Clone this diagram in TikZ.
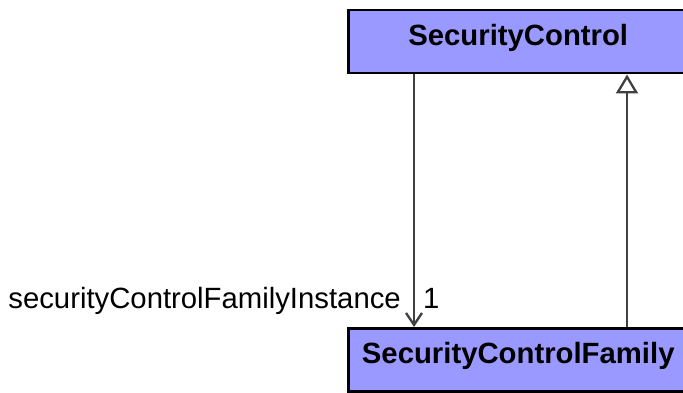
\documentclass[tikz,border=0pt]{standalone}
\usepackage{fontspec}
\setmainfont{Liberation Sans}
\usetikzlibrary{arrows.meta,positioning,calc}
\definecolor{clsfill}{RGB}{153,153,255}
\definecolor{lnk}{RGB}{64,64,64}
\tikzset{
  cls/.style ={rectangle,draw=black,line width=2.5pt,fill=clsfill,minimum width=340pt,
               minimum height=63pt,inner sep=0pt,text height=21pt,text depth=13pt,
               font=\fontsize{29.3}{32}\selectfont\bfseries},
  assoc/.style={lnk,line width=2.3pt,-{Straight Barb[length=12pt,width=16pt,line width=2.3pt]}},
  inher/.style={lnk,line width=2.3pt,-{Triangle[open,length=19pt,width=22pt,line width=2.3pt,fill=white]}},
  role/.style ={inner sep=0pt,font=\fontsize{29.3}{32}\selectfont},
}
\begin{document}
\begin{tikzpicture}[x=1pt,y=-1pt]
  \useasboundingbox (0,0) rectangle (683,393);
  \node[cls,anchor=north west] (ctl) at (347,9)   {SecurityControl};
  \node[cls,anchor=north west] (fam) at (347,327) {SecurityControlFamily};
  \coordinate (a1) at (ctl.south -| 414,0);
  \coordinate (a2) at (fam.north -| 414,0);
  \coordinate (g1) at (fam.north -| 627,0);
  \coordinate (g2) at (ctl.south -| 627,0);
  \draw[assoc] (a1) -- (a2);
  \draw[inher] (g1) -- (g2);
  \node[role,anchor=base east] (rn) at (401,308) {securityControlFamilyInstance};
  \node[role,anchor=base west] (mul) at (423,308) {1};
\end{tikzpicture}
\end{document}
